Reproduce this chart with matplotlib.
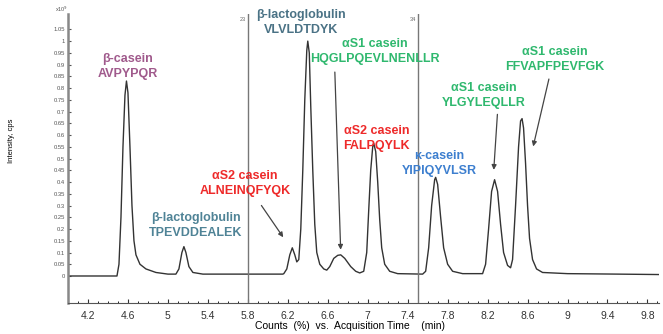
import numpy as np
import matplotlib.pyplot as plt

plt.rcParams['font.family'] = ['Liberation Sans', 'DejaVu Sans']

# chromatogram trace (time in min, intensity x10^9 cps)
time = [4.00, 4.49, 4.51, 4.53, 4.55, 4.57, 4.585, 4.60, 4.62, 4.64, 4.66, 4.68, 4.72, 4.78, 4.88,
        5.00, 5.08, 5.11, 5.14, 5.16, 5.18, 5.21, 5.25, 5.35, 5.8, 6.15,
        6.16, 6.19, 6.22, 6.245, 6.27, 6.29, 6.31, 6.33, 6.35, 6.37, 6.39, 6.40, 6.415, 6.43,
        6.45, 6.47, 6.49, 6.52, 6.56, 6.59, 6.62, 6.66, 6.70, 6.73, 6.77, 6.83, 6.88, 6.92,
        6.96, 6.99, 7.01, 7.03, 7.05, 7.06, 7.08, 7.10, 7.12, 7.14, 7.17, 7.22, 7.30, 7.55,
        7.58, 7.61, 7.64, 7.67, 7.68, 7.70, 7.73, 7.76, 7.80, 7.85, 7.95, 8.15,
        8.18, 8.21, 8.24, 8.27, 8.30, 8.33, 8.36, 8.40, 8.43, 8.45, 8.48, 8.51, 8.53, 8.545,
        8.56, 8.58, 8.60, 8.62, 8.65, 8.69, 8.75, 9.0, 9.5, 9.95]
intensity = [0.0, 0.0, 0.05, 0.25, 0.55, 0.77, 0.83, 0.78, 0.55, 0.30, 0.15, 0.09, 0.05, 0.03, 0.015,
             0.008, 0.008, 0.03, 0.10, 0.125, 0.10, 0.04, 0.015, 0.008, 0.008, 0.008,
             0.01, 0.03, 0.09, 0.12, 0.09, 0.06, 0.07, 0.20, 0.45, 0.75, 0.96, 1.0, 0.95, 0.72,
             0.45, 0.22, 0.10, 0.05, 0.03, 0.025, 0.04, 0.075, 0.088, 0.09, 0.075, 0.04, 0.02, 0.013,
             0.02, 0.10, 0.28, 0.45, 0.55, 0.565, 0.53, 0.40, 0.24, 0.12, 0.05, 0.02, 0.01, 0.008,
             0.02, 0.12, 0.30, 0.41, 0.42, 0.39, 0.25, 0.12, 0.05, 0.02, 0.01, 0.01,
             0.05, 0.20, 0.36, 0.41, 0.36, 0.22, 0.10, 0.045, 0.035, 0.07, 0.30, 0.55, 0.66, 0.67,
             0.63, 0.48, 0.30, 0.16, 0.07, 0.03, 0.015, 0.01, 0.008, 0.006]

# peptide labels: protein, peptide, colour, text position (x, y), arrow or None
proteins = ['β-casein', 'β-lactoglobulin', 'αS2 casein', 'β-lactoglobulin', 'αS1 casein',
            'αS2 casein', 'κ-casein', 'αS1 casein', 'αS1 casein']
peptides = ['AVPYPQR', 'TPEVDDEALEK', 'ALNEINQFYQK', 'VLVLDTDYK', 'HQGLPQEVLNENLLR',
            'FALPQYLK', 'YIPIQYVLSR', 'YLGYLEQLLR', 'FFVAPFPEVFGK']
colors = ['#a05a8c', '#4f8396', '#ee2a2a', '#4a7285', '#2fb86e',
          '#ee2a2a', '#3d7fcf', '#2fb86e', '#2fb86e']
label_x = [4.60, 5.28, 5.77, 6.33, 7.07, 7.09, 7.72, 8.16, 8.87]
label_y = [0.893, 0.215, 0.395, 1.08, 0.955, 0.587, 0.48, 0.77, 0.92]
arrow_from = [None, None, (5.92, 0.31), None, (6.67, 0.88), None, None, (8.30, 0.70), (8.82, 0.85)]
arrow_to = [None, None, (6.17, 0.155), None, (6.73, 0.10), None, None, (8.26, 0.44), (8.65, 0.54)]

fig = plt.figure(figsize=(6.63, 3.34), dpi=100)
ax = fig.add_axes([0.1026, 0.0928, 0.892, 0.865])

ax.plot(time, intensity, color='#333333', lw=1.0)

for xv, lab in [(5.8, '23'), (7.5, '34')]:
    ax.axvline(xv, color='#777777', lw=1.0)
    ax.text(xv - 0.02, 1.09, lab, fontsize=4, color='#666666', ha='right', va='center')

for i in range(len(proteins)):
    ax.text(label_x[i], label_y[i] + 0.006, proteins[i], color=colors[i], fontsize=9,
            fontweight='bold', ha='center', va='bottom')
    ax.text(label_x[i], label_y[i] - 0.006, peptides[i], color=colors[i], fontsize=9,
            fontweight='bold', ha='center', va='top')
    if arrow_from[i] is not None:
        ax.annotate('', xy=arrow_to[i], xytext=arrow_from[i],
                    arrowprops=dict(arrowstyle='-|>', color='#444444', lw=0.9,
                                    mutation_scale=7))

ax.set_xlim(4.0, 9.92)
ax.set_ylim(-0.115, 1.115)
ax.set_xticks(np.arange(4.2, 9.9, 0.4))
ax.set_xticklabels(['4.2', '4.6', '5', '5.4', '5.8', '6.2', '6.6', '7', '7.4', '7.8',
                    '8.2', '8.6', '9', '9.4', '9.8'])
ax.set_xticks(np.arange(4.0, 9.95, 0.1), minor=True)
yt = np.arange(0, 1.06, 0.05)
ax.set_yticks(yt)
ax.set_yticklabels(['0'] + ['%g' % v for v in yt[1:]])
ax.tick_params(axis='x', direction='in', length=3, labelsize=7.5, pad=6, colors='#333333')
ax.tick_params(axis='x', which='minor', direction='in', length=1.5)
ax.tick_params(axis='y', direction='in', length=2.5, labelsize=4.2, pad=2, colors='#555555')

for s in ['top', 'right']:
    ax.spines[s].set_visible(False)
ax.spines['left'].set_color('#888888')
ax.spines['left'].set_linewidth(1.8)
ax.spines['bottom'].set_color('#555555')

ax.set_xlabel('Counts  (%)  vs.  Acquisition Time    (min)', fontsize=7.5)
ax.xaxis.set_label_coords(0.477, -0.062)
fig.text(0.018, 0.58, 'Intensity, cps', rotation=90, fontsize=5.5, ha='center', va='center')
fig.text(0.083, 0.958, 'x10$^9$', fontsize=4, color='#555555', ha='left', va='bottom')

plt.savefig('out.png', dpi=100)
